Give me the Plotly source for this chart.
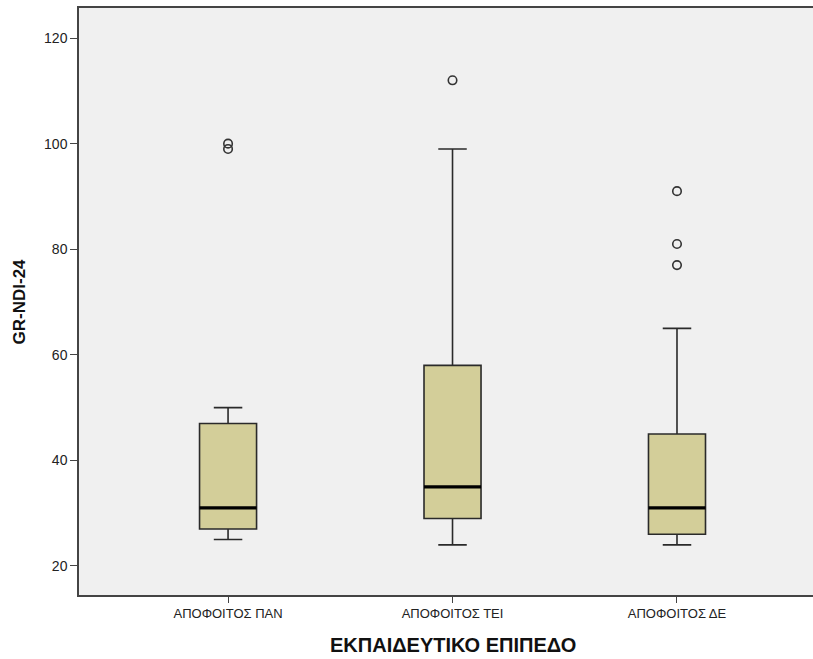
import plotly.graph_objects as go

categories = ["ΑΠΟΦΟΙΤΟΣ ΠΑΝ", "ΑΠΟΦΟΙΤΟΣ ΤΕΙ", "ΑΠΟΦΟΙΤΟΣ ΔΕ"]
q1 = [27, 29, 26]
median = [31, 35, 31]
q3 = [47, 58, 45]
lower_whisker = [25, 24, 24]
upper_whisker = [50, 99, 65]
outliers = [[100, 99], [112], [91, 81, 77]]
y_ticks = [20, 40, 60, 80, 100, 120]

x_title = "ΕΚΠΑΙΔΕΥΤΙΚΟ ΕΠΙΠΕΔΟ"
y_title = "GR-NDI-24"

FONT = "Arial, 'Liberation Sans', sans-serif"
BOX_W = 0.254
xs = list(range(len(categories)))

fig = go.Figure()
fig.add_trace(go.Box(
    x=xs, q1=q1, median=median, q3=q3,
    lowerfence=lower_whisker, upperfence=upper_whisker,
    fillcolor="#d3ce99", line=dict(color="#2a2a2a", width=1.6),
    width=BOX_W, whiskerwidth=0.5, boxpoints=False, showlegend=False,
    hoverinfo="skip",
))

# thick median lines
mx, my = [], []
for i, m in zip(xs, median):
    mx += [i - BOX_W / 2, i + BOX_W / 2, None]
    my += [m, m, None]
fig.add_trace(go.Scatter(x=mx, y=my, mode="lines",
                         line=dict(color="#000000", width=3.2),
                         showlegend=False, hoverinfo="skip"))

# outliers
ox, oy = [], []
for i, vals in zip(xs, outliers):
    for v in vals:
        ox.append(i)
        oy.append(v)
fig.add_trace(go.Scatter(x=ox, y=oy, mode="markers",
                         marker=dict(symbol="circle-open", size=8.5,
                                     color="#333333", line=dict(width=1.6)),
                         showlegend=False, hoverinfo="skip"))

fig.update_layout(
    width=822, height=659,
    margin=dict(l=79, r=0, t=8, b=64),
    paper_bgcolor="white", plot_bgcolor="#f0f0f0",
    font=dict(family=FONT, size=12, color="#222222"),
    xaxis=dict(range=[-0.664, 2.646], tickvals=xs, ticktext=categories,
               showline=True, linecolor="#444444", linewidth=1.5, mirror=True,
               ticks="outside", ticklen=6, tickcolor="#444444",
               showgrid=False, zeroline=False, tickfont=dict(size=13)),
    yaxis=dict(range=[14.5, 125.7], tickvals=y_ticks,
               showline=True, linecolor="#444444", linewidth=1.5,
               ticks="outside", ticklen=7, tickcolor="#444444",
               showgrid=False, zeroline=False, tickfont=dict(size=14)),
    annotations=[
        dict(text="<b>" + x_title + "</b>", xref="x", yref="paper",
             x=1, y=-0.085, xanchor="center", yanchor="middle",
             showarrow=False, font=dict(size=20, color="#111111")),
        dict(text="<b>" + y_title + "</b>", xref="paper", yref="paper",
             x=-0.0795, y=0.5, xanchor="center", yanchor="middle",
             textangle=-90, showarrow=False,
             font=dict(size=17, color="#111111")),
    ],
)

fig.write_html(
    "out.html",
    config={"displayModeBar": False},
    post_script="document.body.style.margin='0px';"
                "document.documentElement.style.overflow='hidden';",
)
